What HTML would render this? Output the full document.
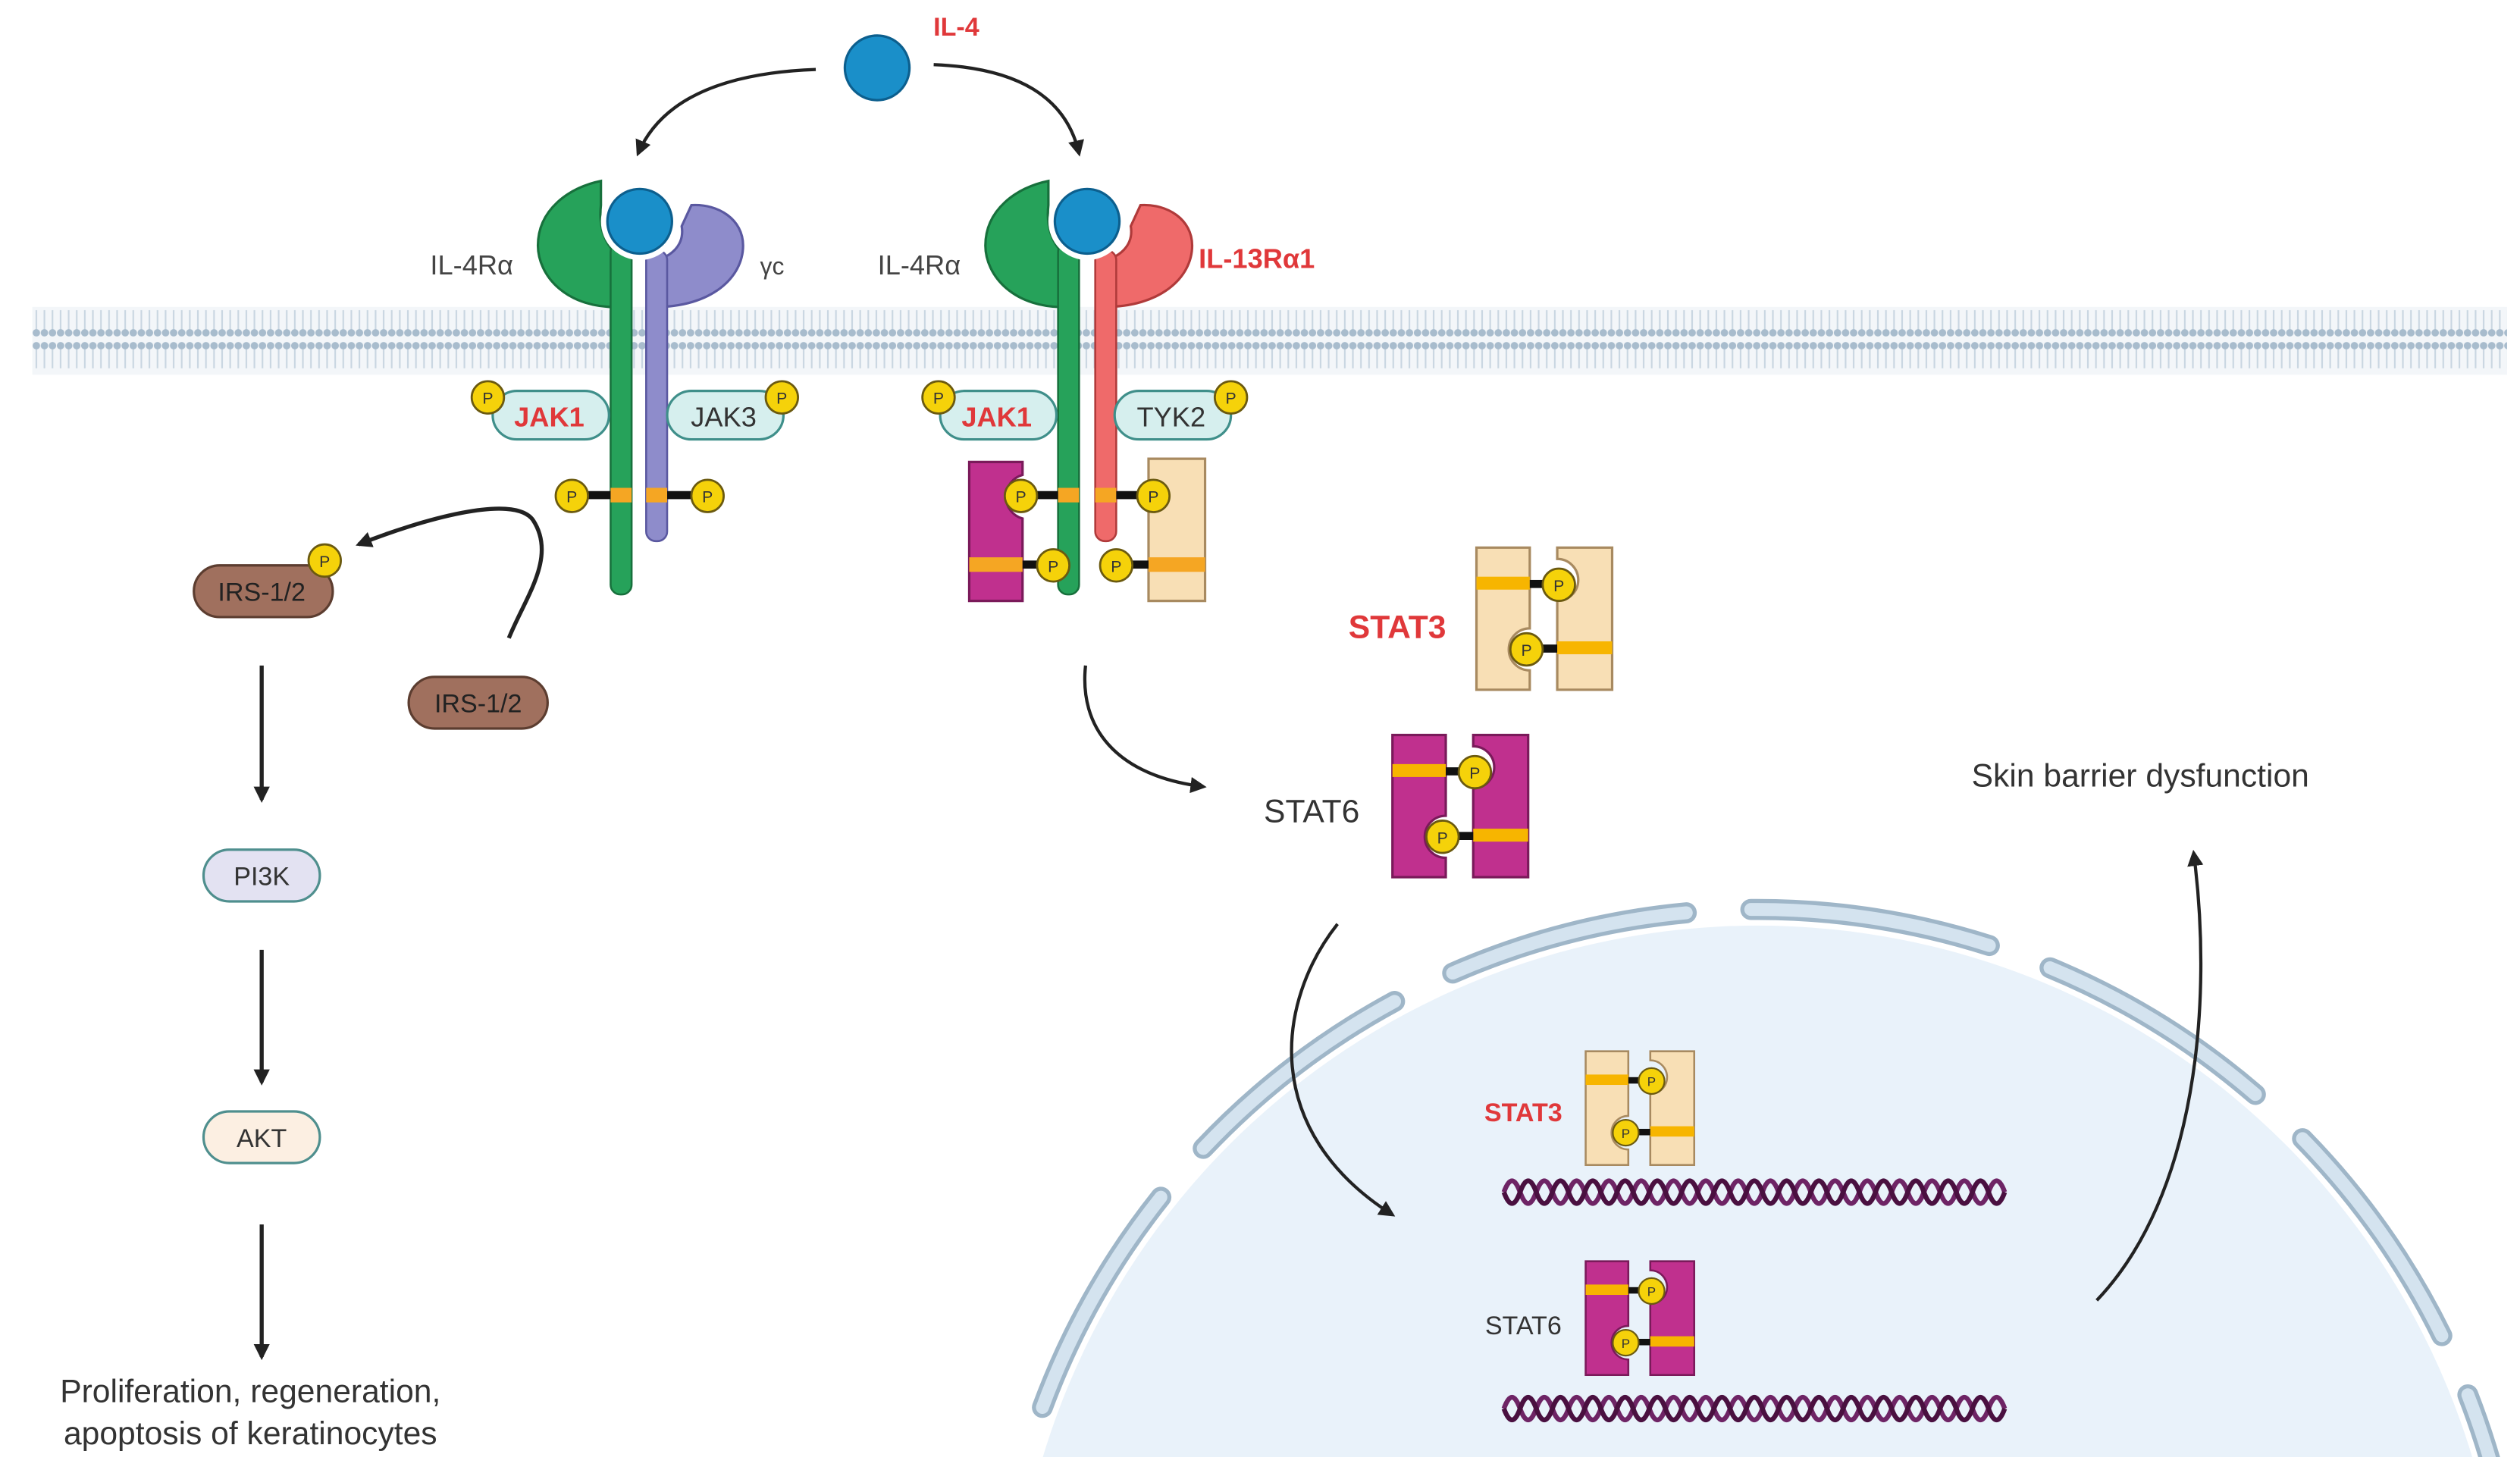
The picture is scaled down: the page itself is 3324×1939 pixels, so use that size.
<!DOCTYPE html>
<html><head><meta charset="utf-8"><style>
html,body{margin:0;padding:0;background:#fff;width:3324px;height:1939px;overflow:hidden}
svg{display:block}
text{font-family:"Liberation Sans",sans-serif}
</style></head><body>
<svg width="3324" height="1939" viewBox="0 0 1560 910" preserveAspectRatio="none" xmlns="http://www.w3.org/2000/svg">
<defs>
<pattern id="mem" x="0" y="0" width="5" height="42" patternUnits="userSpaceOnUse">
<rect width="5" height="42" fill="#f3f6f9"/>
<line x1="2.5" y1="5" x2="2.5" y2="18" stroke="#c9d6e1" stroke-width="1"/>
<line x1="2.5" y1="24" x2="2.5" y2="37" stroke="#c9d6e1" stroke-width="1"/>
<circle cx="2.5" cy="4" r="2.3" fill="#a8bccd"/>
<circle cx="2.5" cy="38" r="2.3" fill="#a8bccd"/>
</pattern>
<marker id="ah" markerWidth="10" markerHeight="10" refX="8" refY="5" orient="auto" markerUnits="userSpaceOnUse">
<path d="M0,0 L10,5 L0,10 Z" fill="#222"/>
</marker>
<g id="P"><circle r="10" fill="#f5d20a" stroke="#6b5a10" stroke-width="1.3"/><text y="4" text-anchor="middle" font-size="10" fill="#333">P</text></g>
<g id="dimMag">
<path d="M-43,-44 h33 v50 a13,13 0 0 0 0,26 v12 h-33 Z" fill="#c0308e" stroke="#7a1a5a" stroke-width="1.5"/>
<path d="M7,-44 h34 v88 h-34 v-55 a13,13 0 0 0 0,-26 Z" fill="#c0308e" stroke="#7a1a5a" stroke-width="1.5"/>
<rect x="-43" y="-26" width="33" height="8" fill="#f7b500"/>
<rect x="7" y="14" width="34" height="8" fill="#f7b500"/>
<rect x="-10" y="-24" width="12" height="5" fill="#111"/>
<rect x="-6" y="16" width="13" height="5" fill="#111"/>
<use href="#P" x="8" y="-21"/><use href="#P" x="-12" y="19"/>
</g>
<g id="dimBei">
<path d="M-43,-44 h33 v50 a13,13 0 0 0 0,26 v12 h-33 Z" fill="#f8dfb5" stroke="#a88a60" stroke-width="1.5"/>
<path d="M7,-44 h34 v88 h-34 v-55 a13,13 0 0 0 0,-26 Z" fill="#f8dfb5" stroke="#a88a60" stroke-width="1.5"/>
<rect x="-43" y="-26" width="33" height="8" fill="#f7b500"/>
<rect x="7" y="14" width="34" height="8" fill="#f7b500"/>
<rect x="-10" y="-24" width="12" height="5" fill="#111"/>
<rect x="-6" y="16" width="13" height="5" fill="#111"/>
<use href="#P" x="8" y="-21"/><use href="#P" x="-12" y="19"/>
</g>
<g id="dna" fill="none" stroke="#6e2465" stroke-width="3">
<path d="M0,0 q5,-14 10,0 t10,0 t10,0 t10,0 t10,0 t10,0 t10,0 t10,0 t10,0 t10,0 t10,0 t10,0 t10,0 t10,0 t10,0 t10,0 t10,0 t10,0 t10,0 t10,0 t10,0 t10,0 t10,0 t10,0 t10,0 t10,0 t10,0 t10,0 t10,0 t10,0 t10,0"/>
<path d="M0,0 q5,14 10,0 t10,0 t10,0 t10,0 t10,0 t10,0 t10,0 t10,0 t10,0 t10,0 t10,0 t10,0 t10,0 t10,0 t10,0 t10,0 t10,0 t10,0 t10,0 t10,0 t10,0 t10,0 t10,0 t10,0 t10,0 t10,0 t10,0 t10,0 t10,0 t10,0 t10,0" stroke="#4a1040"/>
</g>
</defs>

<clipPath id="clipb"><rect x="0" y="0" width="1560" height="902"/></clipPath>
<g clip-path="url(#clipb)">
<circle cx="1088" cy="1035" r="462" fill="#e9f2fa"/>
<circle cx="1088" cy="1035" r="472" fill="none" stroke="#9fb6c8" stroke-width="13" stroke-dasharray="150 40" stroke-dashoffset="60" stroke-linecap="round"/>
<circle cx="1088" cy="1035" r="472" fill="none" stroke="#d4e3ef" stroke-width="8" stroke-dasharray="150 40" stroke-dashoffset="60" stroke-linecap="round"/>
</g>

<rect x="20" y="190" width="1532" height="42" fill="url(#mem)"/>

<text x="592" y="22" font-size="16" font-weight="bold" fill="#e0383a" text-anchor="middle">IL-4</text>
<circle cx="543" cy="42" r="20" fill="#1a8fc9" stroke="#0c5f8e" stroke-width="1.5"/>
<path d="M505,43 C450,45 410,60 395,95" fill="none" stroke="#222" stroke-width="2" marker-end="url(#ah)"/>
<path d="M578,40 C630,42 660,60 668,95" fill="none" stroke="#222" stroke-width="2" marker-end="url(#ah)"/>

<path d="M386,190 C350,192 333,170 333,152 C333,130 352,116 372,112 L372,127 C370,145 378,158 390,162 Z" fill="#26a25a" stroke="#17703c" stroke-width="1.5"/>
<rect x="378" y="150" width="13" height="218" rx="6" fill="#26a25a" stroke="#17703c" stroke-width="1.2"/>
<path d="M406,190 C440,190 460,172 460,152 C460,136 445,126 428,127 L422,140 C424,152 415,160 402,162 Z" fill="#8e8ccb" stroke="#5a58a0" stroke-width="1.5"/>
<rect x="400" y="155" width="13" height="180" rx="6" fill="#8e8ccb" stroke="#5a58a0" stroke-width="1.2"/>
<circle cx="396" cy="137" r="24" fill="#fff"/>
<circle cx="396" cy="137" r="20" fill="#1a8fc9" stroke="#0c5f8e" stroke-width="1.5"/>
<text x="292" y="170" font-size="17" fill="#444" text-anchor="middle">IL-4Rα</text>
<text x="478" y="170" font-size="15" fill="#444" text-anchor="middle">γc</text>
<rect x="305" y="242" width="72" height="30" rx="15" fill="#d6efee" stroke="#3f8f8a" stroke-width="1.5"/>
<text x="340" y="264" font-size="17" font-weight="bold" fill="#e0383a" text-anchor="middle">JAK1</text>
<rect x="413" y="242" width="72" height="30" rx="15" fill="#d6efee" stroke="#3f8f8a" stroke-width="1.5"/>
<text x="448" y="264" font-size="17" fill="#333" text-anchor="middle">JAK3</text>
<use href="#P" x="302" y="246"/><use href="#P" x="484" y="246"/>
<rect x="378" y="302" width="13" height="9" fill="#f5a623"/><rect x="400" y="302" width="13" height="9" fill="#f5a623"/>
<rect x="362" y="304" width="16" height="5" fill="#111"/><rect x="413" y="304" width="16" height="5" fill="#111"/>
<use href="#P" x="354" y="307"/><use href="#P" x="438" y="307"/>

<path d="M663,190 C627,192 610,170 610,152 C610,130 629,116 649,112 L649,127 C647,145 655,158 667,162 Z" fill="#26a25a" stroke="#17703c" stroke-width="1.5"/>
<rect x="655" y="150" width="13" height="218" rx="6" fill="#26a25a" stroke="#17703c" stroke-width="1.2"/>
<path d="M684,190 C718,190 738,172 738,152 C738,136 723,126 706,127 L700,140 C702,152 693,160 680,162 Z" fill="#ef6a6a" stroke="#b03a3a" stroke-width="1.5"/>
<rect x="678" y="155" width="13" height="180" rx="6" fill="#ef6a6a" stroke="#b03a3a" stroke-width="1.2"/>
<circle cx="673" cy="137" r="24" fill="#fff"/>
<circle cx="673" cy="137" r="20" fill="#1a8fc9" stroke="#0c5f8e" stroke-width="1.5"/>
<text x="569" y="170" font-size="17" fill="#444" text-anchor="middle">IL-4Rα</text>
<text x="778" y="166" font-size="17" font-weight="bold" fill="#e0383a" text-anchor="middle">IL-13Rα1</text>
<rect x="582" y="242" width="72" height="30" rx="15" fill="#d6efee" stroke="#3f8f8a" stroke-width="1.5"/>
<text x="617" y="264" font-size="17" font-weight="bold" fill="#e0383a" text-anchor="middle">JAK1</text>
<rect x="690" y="242" width="72" height="30" rx="15" fill="#d6efee" stroke="#3f8f8a" stroke-width="1.5"/>
<text x="725" y="264" font-size="17" fill="#333" text-anchor="middle">TYK2</text>
<use href="#P" x="581" y="246"/><use href="#P" x="762" y="246"/>
<path d="M600,286 h33 v8 a14,14 0 0 0 0,27 v51 h-33 Z" fill="#c0308e" stroke="#7a1a5a" stroke-width="1.5"/>
<rect x="600" y="345" width="33" height="9" fill="#f5a623"/>
<path d="M711,284 h35 v88 h-35 Z" fill="#f8dfb5" stroke="#a88a60" stroke-width="1.5"/>
<rect x="711" y="345" width="35" height="9" fill="#f5a623"/>
<rect x="655" y="302" width="13" height="9" fill="#f5a623"/><rect x="678" y="302" width="13" height="9" fill="#f5a623"/>
<rect x="640" y="304" width="15" height="5" fill="#111"/><rect x="691" y="304" width="15" height="5" fill="#111"/>
<use href="#P" x="632" y="307"/><use href="#P" x="714" y="307"/>
<rect x="633" y="347" width="20" height="5" fill="#111"/><rect x="692" y="347" width="19" height="5" fill="#111"/>
<use href="#P" x="652" y="350"/><use href="#P" x="691" y="350"/>

<path d="M315,395 C325,370 345,345 330,322 C318,305 260,322 222,337" fill="none" stroke="#222" stroke-width="2.5" marker-end="url(#ah)"/>
<rect x="120" y="350" width="86" height="32" rx="16" fill="#a0705e" stroke="#5c3d30" stroke-width="1.5"/>
<text x="162" y="372" font-size="16" fill="#222" text-anchor="middle">IRS-1/2</text>
<use href="#P" x="201" y="347"/>
<rect x="253" y="419" width="86" height="32" rx="16" fill="#a0705e" stroke="#5c3d30" stroke-width="1.5"/>
<text x="296" y="441" font-size="16" fill="#222" text-anchor="middle">IRS-1/2</text>
<line x1="162" y1="412" x2="162" y2="495" stroke="#222" stroke-width="2.5" marker-end="url(#ah)"/>
<rect x="126" y="526" width="72" height="32" rx="16" fill="#e3e2f2" stroke="#4f8f8e" stroke-width="1.5"/>
<text x="162" y="548" font-size="16" fill="#333" text-anchor="middle">PI3K</text>
<line x1="162" y1="588" x2="162" y2="670" stroke="#222" stroke-width="2.5" marker-end="url(#ah)"/>
<rect x="126" y="688" width="72" height="32" rx="16" fill="#fcefe2" stroke="#4f8f8e" stroke-width="1.5"/>
<text x="162" y="710" font-size="16" fill="#333" text-anchor="middle">AKT</text>
<line x1="162" y1="758" x2="162" y2="840" stroke="#222" stroke-width="2.5" marker-end="url(#ah)"/>
<text x="155" y="868" font-size="20" fill="#333" text-anchor="middle">Proliferation, regeneration,</text>
<text x="155" y="894" font-size="20" fill="#333" text-anchor="middle">apoptosis of keratinocytes</text>

<path d="M672,412 C668,450 690,480 745,487" fill="none" stroke="#222" stroke-width="2" marker-end="url(#ah)"/>
<text x="865" y="395" font-size="20" font-weight="bold" fill="#e0383a" text-anchor="middle">STAT3</text>
<use href="#dimBei" x="957" y="383"/>
<text x="812" y="509" font-size="20" fill="#333" text-anchor="middle">STAT6</text>
<use href="#dimMag" x="905" y="499"/>
<path d="M828,572 C790,620 780,700 862,752" fill="none" stroke="#222" stroke-width="2" marker-end="url(#ah)"/>
<path d="M1298,805 C1360,740 1370,620 1358,528" fill="none" stroke="#222" stroke-width="2" marker-end="url(#ah)"/>
<text x="1325" y="487" font-size="20" fill="#333" text-anchor="middle">Skin barrier dysfunction</text>

<text x="943" y="694" font-size="16" font-weight="bold" fill="#e0383a" text-anchor="middle">STAT3</text>
<g transform="translate(1016,686) scale(0.8)"><use href="#dimBei"/></g>
<use href="#dna" x="931" y="738"/>
<text x="943" y="826" font-size="16" fill="#333" text-anchor="middle">STAT6</text>
<g transform="translate(1016,816) scale(0.8)"><use href="#dimMag"/></g>
<use href="#dna" x="931" y="872"/>
</svg>
</body></html>
